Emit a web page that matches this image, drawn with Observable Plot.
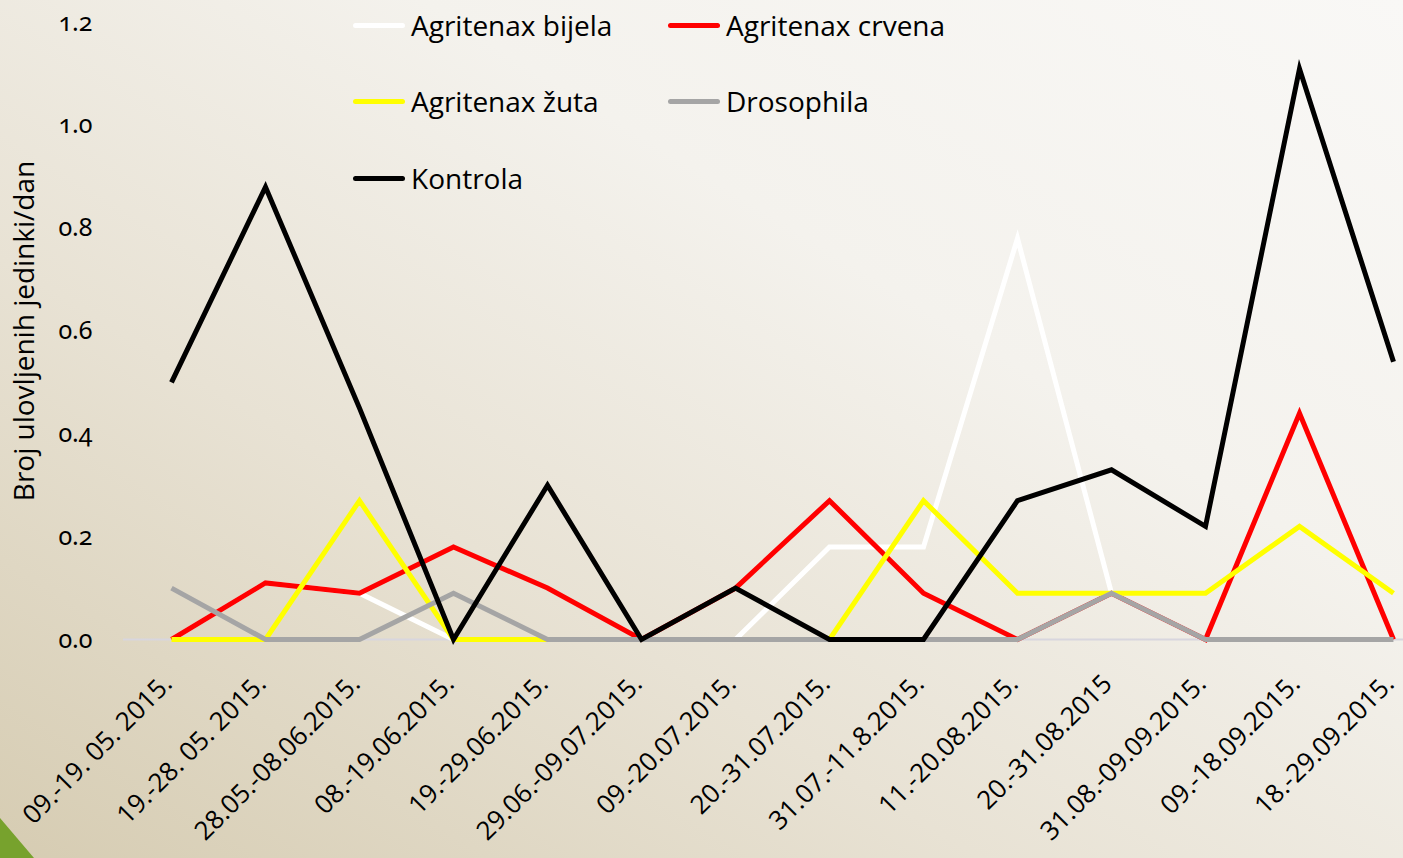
<!DOCTYPE html>
<html>
<head>
<meta charset="utf-8">
<script src="https://cdn.jsdelivr.net/npm/d3@7"></script>
<script src="https://cdn.jsdelivr.net/npm/@observablehq/plot@0.6"></script>
<style>
  html, body { margin: 0; padding: 0; width: 1403px; height: 858px; overflow: hidden; }
  body {
    position: relative;
    background: linear-gradient(to top right, #d6ccb2 0%, #e8e2d4 35%, #f4f2ed 65%, #f9f8f6 100%);
    font-family: "Open Sans", sans-serif;
  }
  #chart { position: absolute; left: 0; top: 0; }
  #legend { position: absolute; left: 0; top: 0; width: 1403px; height: 220px; pointer-events: none; }
  .item { position: absolute; display: flex; align-items: center; font-size: 28px; color: #000; white-space: nowrap; }
  .sw { width: 52px; height: 5px; border-radius: 3px; margin-right: 6px; }
  #corner { position: absolute; left: 0; bottom: 0; width: 34px; height: 40px; background: #77a22d; clip-path: polygon(0 0, 100% 100%, 0 100%); }
  .ytick text { font-variant-numeric: oldstyle-nums; }
</style>
</head>
<body>
<div id="chart"></div>
<div id="legend"></div>
<div id="corner"></div>
<script>
const periods = [
  "09.-19. 05. 2015.", "19.-28. 05. 2015.", "28.05.-08.06.2015.", "08.-19.06.2015.",
  "19.-29.06.2015.", "29.06.-09.07.2015.", "09.-20.07.2015.", "20.-31.07.2015.",
  "31.07.-11.8.2015.", "11.-20.08.2015.", "20.-31.08.2015", "31.08.-09.09.2015.",
  "09.-18.09.2015.", "18.-29.09.2015."
];
const seriesNames = ["Agritenax bijela", "Agritenax crvena", "Agritenax žuta", "Drosophila", "Kontrola"];
const seriesColors = ["#ffffff", "#ff0000", "#ffff00", "#a5a5a5", "#000000"];

const bijela  = [0, 0.11, 0.09, 0, 0, 0, 0, 0.18, 0.18, 0.78, 0.09, 0, 0, 0];
const crvena  = [0, 0.11, 0.09, 0.18, 0.10, 0, 0.10, 0.27, 0.09, 0, 0.09, 0, 0.44, 0];
const zuta    = [0, 0, 0.27, 0, 0, 0, 0, 0, 0.27, 0.09, 0.09, 0.09, 0.22, 0.09];
const drosophila = [0.10, 0, 0, 0.09, 0, 0, 0, 0, 0, 0, 0.09, 0, 0, 0];
const kontrola = [0.50, 0.88, 0.45, 0, 0.30, 0, 0.10, 0, 0, 0.27, 0.33, 0.22, 1.11, 0.54];

const yTicks = [0, 0.2, 0.4, 0.6, 0.8, 1.0, 1.2];
const yLabel = "Broj ulovljenih jedinki/dan";

const allSeries = [bijela, crvena, zuta, drosophila, kontrola];
const rows = [];
allSeries.forEach((vals, si) => vals.forEach((v, i) => rows.push({period: periods[i], value: v, series: seriesNames[si]})));

const chart = Plot.plot({
  width: 1403,
  height: 858,
  marginLeft: 123,
  marginRight: -37,
  marginTop: 22,
  marginBottom: 219,
  style: { background: "transparent", fontFamily: "Open Sans, sans-serif", color: "#000" },
  x: { type: "point", domain: periods, padding: 0.5, axis: null },
  y: { domain: [0, 1.2], axis: null },
  color: { domain: seriesNames, range: seriesColors },
  marks: [
    Plot.ruleY([0], { stroke: "#d8d6de", strokeWidth: 2 }),
    Plot.axisY({ ticks: yTicks, tickFormat: d3.format(".1f"), tickSize: 0, tickPadding: 31, fontSize: 25, fontFamily: "Noto Sans, sans-serif", label: null, className: "ytick" }),
    Plot.text([yLabel], { frameAnchor: "left", text: d => d, rotate: -90, dx: -98, fontSize: 28, lineAnchor: "middle", textAnchor: "middle", fill: "#000" }),
    Plot.text(periods, { x: d => d, text: d => d, frameAnchor: "bottom", rotate: -45, textAnchor: "end", lineAnchor: "bottom", dx: 2, dy: 46, fontSize: 26, fill: "#000" }),
    ...seriesNames.map(name => Plot.line(rows.filter(r => r.series === name), {
      x: "period", y: "value", stroke: "series", strokeWidth: 5,
      strokeLinejoin: "miter", strokeLinecap: "butt", strokeMiterlimit: 10
    }))
  ]
});
document.getElementById("chart").appendChild(chart);

const legendPos = [
  {left: 353, top: 25}, {left: 668, top: 25},
  {left: 353, top: 101}, {left: 668, top: 101},
  {left: 353, top: 178}
];
const legend = document.getElementById("legend");
seriesNames.forEach((name, i) => {
  const item = document.createElement("div");
  item.className = "item";
  item.style.left = legendPos[i].left + "px";
  item.style.top = (legendPos[i].top - 20) + "px";
  item.style.height = "40px";
  const sw = document.createElement("span");
  sw.className = "sw";
  sw.style.background = seriesColors[i];
  const t = document.createElement("span");
  t.textContent = name;
  item.appendChild(sw);
  item.appendChild(t);
  legend.appendChild(item);
});
</script>
</body>
</html>
